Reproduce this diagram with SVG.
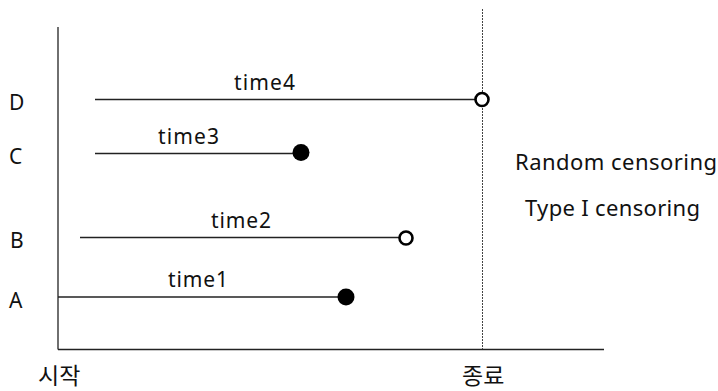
<svg xmlns="http://www.w3.org/2000/svg" width="718" height="391" viewBox="0 0 718 391">
<style>
text{font-family:"Noto Sans","Noto Sans CJK KR",sans-serif;fill:#111}
.lbl{font-size:21px}
.t{font-size:21px}
.cap{font-size:22px}
.ko{font-size:23px}
.ln{stroke:#222;stroke-width:1.3;fill:none}
.open{fill:#fff;stroke:#000;stroke-width:2.6}
.fill{fill:#000}
</style>
<rect width="718" height="391" fill="#fff"/>
<g id="axes">
<line class="ln" x1="58" y1="27" x2="58" y2="349.5"/>
<line class="ln" x1="58" y1="349.5" x2="604" y2="349.5"/>
<line x1="482.5" y1="9" x2="482.5" y2="349" stroke="#444" stroke-width="1" stroke-dasharray="2,1"/>
</g>
<g id="connectors">
<line class="ln" x1="95" y1="99.5" x2="476" y2="99.5"/>
<line class="ln" x1="95" y1="153.5" x2="296" y2="153.5"/>
<line class="ln" x1="80" y1="237.5" x2="400" y2="237.5"/>
<line class="ln" x1="58" y1="297" x2="340" y2="297"/>
</g>
<g id="D"><text class="lbl" x="9" y="110" textLength="15">D</text><text class="t" x="234" y="90" textLength="61">time4</text><circle class="open" cx="482" cy="99.5" r="6.5"/></g>
<g id="C"><text class="lbl" x="9" y="164" textLength="14">C</text><text class="t" x="158" y="144" textLength="61">time3</text><circle class="fill" cx="301" cy="152.5" r="8.5"/></g>
<g id="B"><text class="lbl" x="10" y="248" textLength="13">B</text><text class="t" x="211" y="228" textLength="60">time2</text><circle class="open" cx="406" cy="238" r="6.5"/></g>
<g id="A"><text class="lbl" x="9" y="308" textLength="16">A</text><text class="t" x="168" y="287" textLength="60">time1</text><circle class="fill" cx="346" cy="297" r="8.5"/></g>
<g id="legend">
<text class="cap" x="515" y="170" textLength="202">Random censoring</text>
<text class="cap" x="525" y="216" textLength="175">Type I censoring</text>
</g>
<g id="axis-labels">
<text class="ko" x="38" y="384">시작</text>
<text class="ko" x="462" y="384">종료</text>
</g>
</svg>
